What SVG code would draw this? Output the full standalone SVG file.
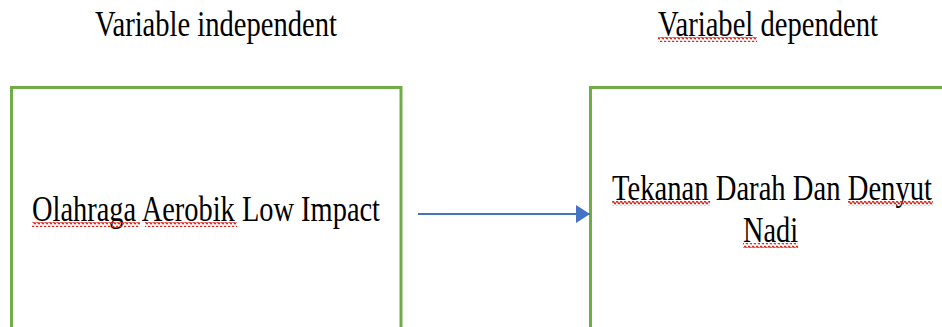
<svg xmlns="http://www.w3.org/2000/svg" width="942" height="327" viewBox="0 0 942 327">
  <style>
    .box { fill: #ffffff; stroke: #70AD47; stroke-width: 3; }
    .t { font-family: "Liberation Serif", "Times New Roman", serif; font-size: 36px; fill: #000000; }
    .conn { stroke: #4472C4; stroke-width: 1.8; fill: none; }
    .sq { fill: url(#squig); }
  </style>
  <defs>
    <pattern id="squig" patternUnits="userSpaceOnUse" width="4" height="5">
      <path d="M0 2.5 Q1 0 2 2.5 T4 2.5" fill="none" stroke="#E0261C" stroke-width="1.5"/>
    </pattern>
    <marker id="arrow" markerUnits="userSpaceOnUse" markerWidth="16" markerHeight="18" refX="14" refY="9" orient="auto">
      <path d="M0 0 L14 9 L0 18 Z" fill="#4472C4"/>
    </marker>
  </defs>
  <rect width="942" height="327" fill="#ffffff"/>

  <g id="title-independent">
    <text class="t" x="95" y="36" textLength="242" lengthAdjust="spacingAndGlyphs">Variable independent</text>
  </g>
  <g id="title-dependent">
    <text class="t" x="658" y="36" textLength="220" lengthAdjust="spacingAndGlyphs">Variabel dependent</text>
    <rect class="sq" x="658" y="37" width="99" height="5"/>
  </g>

  <g id="node-independent">
    <rect class="box" x="11.5" y="87.5" width="389.5" height="260"/>
    <text class="t" x="32" y="221" textLength="348" lengthAdjust="spacingAndGlyphs">Olahraga Aerobik Low Impact</text>
    <rect class="sq" x="32" y="222" width="108" height="5"/>
    <rect class="sq" x="145" y="222" width="92" height="5"/>
  </g>

  <g id="node-dependent">
    <rect class="box" x="590.5" y="87.5" width="400" height="260"/>
    <text class="t" x="612" y="200" textLength="320" lengthAdjust="spacingAndGlyphs">Tekanan Darah Dan Denyut</text>
    <rect class="sq" x="612" y="201" width="98" height="5"/>
    <rect class="sq" x="848" y="201" width="85" height="5"/>
    <text class="t" x="743" y="242" textLength="55" lengthAdjust="spacingAndGlyphs">Nadi</text>
    <rect class="sq" x="743" y="243" width="55" height="5"/>
  </g>

  <g id="connectors">
    <line class="conn" x1="418" y1="214" x2="590" y2="214" marker-end="url(#arrow)"/>
  </g>
</svg>
